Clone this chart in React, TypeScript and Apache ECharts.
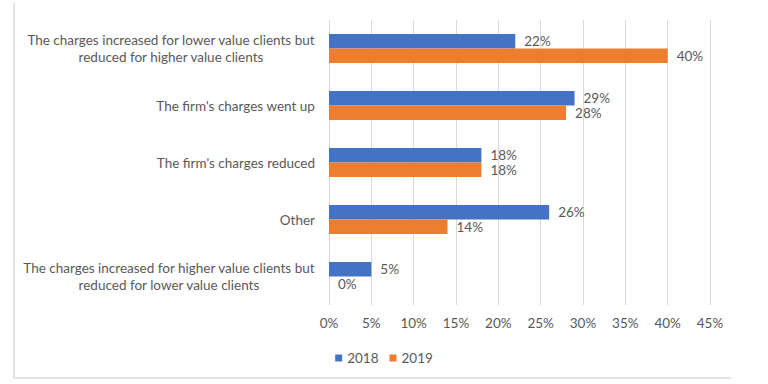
import React, { useEffect, useRef } from "react";
import * as echarts from "echarts";

const categories = [
  "The charges increased for lower value clients but reduced for higher value clients",
  "The firm's charges went up",
  "The firm's charges reduced",
  "Other",
  "The charges increased for higher value clients but reduced for lower value clients",
];
const seriesNames = ["2018", "2019"];
const values2018 = [22, 29, 18, 26, 5];
const values2019 = [40, 28, 18, 14, 0];
const colors = ["#4472C4", "#ED7D31"];

const FONT = "Lato";
const TEXT = "#595959";
const FS = 13.5;

export default function App() {
  const ref = useRef<HTMLDivElement>(null);
  useEffect(() => {
    if (!ref.current) return;
    const chart = echarts.init(ref.current, null, { renderer: "svg" });
    const mkSeries = (name: string, data: number[], color: string) => ({
      name,
      type: "bar",
      data,
      itemStyle: { color },
      barGap: "0%",
      barCategoryGap: "49%",
      label: {
        show: true,
        position: "right",
        distance: 9,
        formatter: "{c}%",
        color: TEXT,
        fontFamily: FONT,
        fontSize: FS,
      },
    });
    chart.setOption({
      animation: false,
      textStyle: { fontFamily: FONT },
      grid: { left: 329, right: 58, top: 20, bottom: 79, containLabel: false },
      xAxis: {
        type: "value",
        min: 0,
        max: 45,
        interval: 5,
        axisLine: { show: false },
        axisTick: { show: false },
        splitLine: { lineStyle: { color: "#D9D9D9", width: 1 } },
        axisLabel: {
          formatter: "{value}%",
          color: TEXT,
          fontFamily: FONT,
          fontSize: FS,
          margin: 11,
        },
      },
      yAxis: {
        type: "category",
        inverse: true,
        data: categories,
        axisLine: { show: false },
        axisTick: { show: false },
        axisLabel: {
          color: TEXT,
          fontFamily: FONT,
          fontSize: FS,
          margin: 14,
          lineHeight: 17,
          align: "right",
          formatter: (v: string) =>
            v
              .replace(" but ", " but\n")
              .split("\n")
              .map((s) => `{c|${s}}`)
              .join("\n"),
          rich: {
            c: {
              align: "center",
              color: TEXT,
              fontFamily: FONT,
              fontSize: FS,
              lineHeight: 17,
            },
          },
        },
      },
      legend: {
        data: seriesNames,
        top: 346,
        left: "center",
        icon: "rect",
        itemWidth: 7,
        itemHeight: 7,
        itemGap: 11,
        textStyle: { color: TEXT, fontFamily: FONT, fontSize: FS },
      },
      graphic: [
        {
          type: "line",
          shape: { x1: 14, y1: 3, x2: 14, y2: 378 },
          style: { stroke: "#D9D9D9", lineWidth: 1.5 },
        },
        {
          type: "line",
          shape: { x1: 14, y1: 378, x2: 731, y2: 378 },
          style: { stroke: "#D9D9D9", lineWidth: 1.5 },
        },
      ],
      series: [
        mkSeries(seriesNames[0], values2018, colors[0]),
        mkSeries(seriesNames[1], values2019, colors[1]),
      ],
    });
    return () => chart.dispose();
  }, []);
  return (
    <div
      ref={ref}
      style={{ position: "fixed", left: 0, top: 0, width: 768, height: 384, background: "#fff" }}
    />
  );
}
